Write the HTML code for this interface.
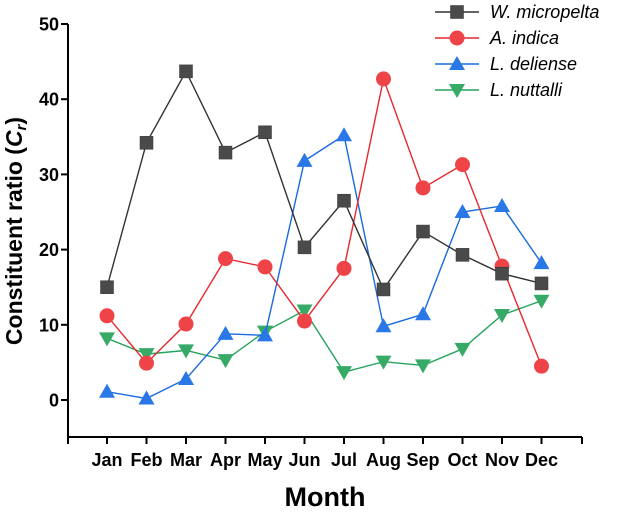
<!DOCTYPE html>
<html><head><meta charset="utf-8"><style>
body{margin:0;background:#fff}
text{font-family:"Liberation Sans",Arial,sans-serif}
</style></head><body>
<svg id="chart" width="624" height="509" viewBox="0 0 624 509">
<g id="axes"></g>
<g id="series"></g>
<g id="legend"></g>
<text x="325" y="506" text-anchor="middle" font-size="27" font-weight="bold">Month</text>
<text transform="translate(22,231) rotate(-90)" text-anchor="middle" font-size="23" font-weight="bold">Constituent ratio (<tspan font-style="italic">C<tspan font-size="15" dy="4">r</tspan></tspan><tspan dy="-4">)</tspan></text>
</svg>
<script>
const months=["Jan","Feb","Mar","Apr","May","Jun","Jul","Aug","Sep","Oct","Nov","Dec"];
const yTicks=[0,10,20,30,40,50];
const seriesNames=["W. micropelta","A. indica","L. deliense","L. nuttalli"];
const wMicropelta=[15,34.2,43.7,32.9,35.6,20.3,26.5,14.7,22.4,19.3,16.8,15.5];
const aIndica=[11.2,4.9,10.1,18.8,17.7,10.5,17.5,42.7,28.2,31.3,17.8,4.5];
const lDeliense=[1.1,0.2,2.8,8.8,8.6,31.8,35.2,9.8,11.4,25,25.8,18.2];
const lNuttalli=[8.2,6.1,6.6,5.3,9.1,11.9,3.7,5.1,4.6,6.8,11.3,13.2];

const NS="http://www.w3.org/2000/svg";
const X0=68,X1=582,YB=437;
const xS=i=>107+i*39.5;
const yS=v=>400-v*7.52;
function mk(tag,attrs,parent){const e=document.createElementNS(NS,tag);for(const k in attrs)e.setAttribute(k,attrs[k]);parent.appendChild(e);return e;}
const axes=document.getElementById('axes');
let e=mk('path',{d:`M${X0} ${yS(50)}V${YB}H${X1}`,fill:'none',stroke:'#000','stroke-width':2},axes);


yTicks.forEach(t=>{
  let l=mk('line',{x1:X0-7,x2:X0,y1:yS(t),y2:yS(t),stroke:'#000','stroke-width':2},axes);
  
  
  let tx=mk('text',{x:X0-9,y:yS(t)+6.5,'text-anchor':'end','font-size':18,'font-weight':'bold'},axes);
  tx.textContent=t;
  
  
});
[X0,X1].forEach(x=>{let l=mk('line',{x1:x,x2:x,y1:YB,y2:YB+7,stroke:'#000','stroke-width':2},axes);
  
  });
months.forEach((m,i)=>{
  let l=mk('line',{x1:xS(i),x2:xS(i),y1:YB,y2:YB+7,stroke:'#000','stroke-width':2},axes);
  
  
  let tx=mk('text',{x:xS(i),y:466,'text-anchor':'middle','font-size':18,'font-weight':'bold'},axes);
  tx.textContent=m;
  
  
});
const colors=["#333","#e8282c","#1a6ae0","#23a35a"];
const fills=["#4a4a4a","#ef4447","#2a78e8","#36aa66"];
const shapes=["square","circle","up","down"];
function marker(shape,x,y,fill,p){
  if(shape==='square')return mk('rect',{x:x-6.5,y:y-6.5,width:13,height:13,fill:fill,stroke:'#333','stroke-width':0.5},p);
  if(shape==='circle')return mk('circle',{cx:x,cy:y,r:7.5,fill:fill},p);
  if(shape==='up')return mk('path',{d:`M${x} ${y-8}L${x+8} ${y+6}L${x-8} ${y+6}Z`,fill:fill},p);
  return mk('path',{d:`M${x} ${y+8}L${x+8} ${y-6}L${x-8} ${y-6}Z`,fill:fill},p);
}
const data=[wMicropelta,aIndica,lDeliense,lNuttalli];
const sg=document.getElementById('series');
const keys=["w-micropelta","a-indica","l-deliense","l-nuttalli"];
[3,2,1,0].forEach(s=>{
  const g=mk('g',{},sg);
  
  
  let pl=mk('polyline',{points:data[s].map((v,i)=>xS(i)+','+yS(v)).join(' '),fill:'none',stroke:colors[s],'stroke-width':1.4},g);
  
  
  data[s].forEach((v,i)=>{
    let m=marker(shapes[s],xS(i),yS(v),fills[s],g);
    
    
  });
});
const lg=document.getElementById('legend');
seriesNames.forEach((n,s)=>{
  const y=12+s*26;
  const g=mk('g',{},lg);
  
  
  mk('line',{x1:435,x2:479,y1:y,y2:y,stroke:colors[s],'stroke-width':1.4},g);
  marker(shapes[s],457,y,fills[s],g);
  let tx=mk('text',{x:490,y:y+6,'font-size':18,'font-style':'italic'},g);
  tx.textContent=n;
});
</script>
</body></html>
